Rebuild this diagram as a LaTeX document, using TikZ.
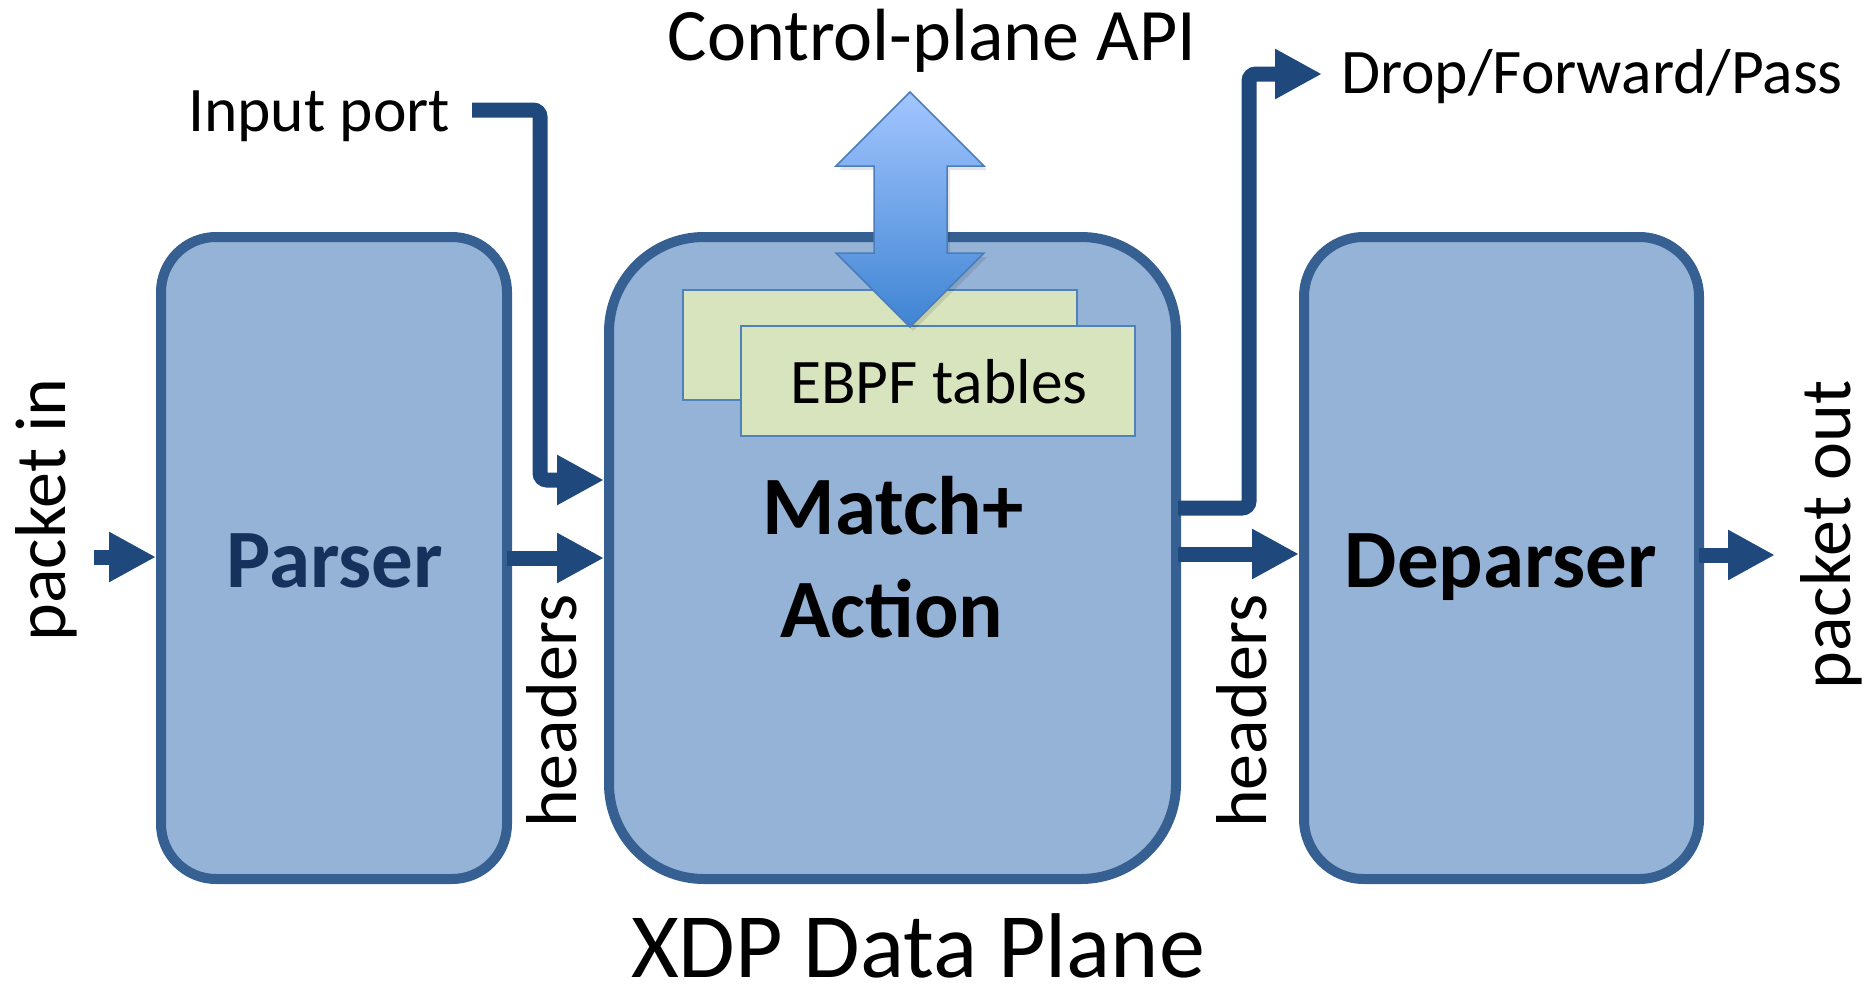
\documentclass[tikz,border=0pt]{standalone}
\usepackage{fontspec}
\setmainfont{Carlito}
\usetikzlibrary{arrows.meta}
\definecolor{boxfill}{HTML}{95B3D7}
\definecolor{boxline}{HTML}{376092}
\definecolor{arrowc}{HTML}{1F497D}
\definecolor{tabfill}{HTML}{D7E4BD}
\definecolor{tabline}{HTML}{4F81BD}
\definecolor{navy}{HTML}{15315C}
\definecolor{datop}{HTML}{A3C6FF}
\definecolor{dabot}{HTML}{3F84D3}
\definecolor{daline}{HTML}{4A7EBB}
\begin{document}
\begin{tikzpicture}[x=1pt,y=-1pt,
  blk/.style={draw=boxline, fill=boxfill, line width=10pt, inner sep=0pt, minimum height=642pt},
  conn/.style={draw=arrowc, line width=15pt, -{Triangle[length=47pt,width=47pt]}},
  tab/.style={draw=tabline, fill=tabfill, line width=1.5pt, minimum width=394pt, minimum height=110pt, inner sep=0pt},
  lbl/.style={inner sep=0pt, text=black},
  bigbold/.style={lbl, font=\fontsize{83}{90}\selectfont\bfseries},
  midtxt/.style={lbl, font=\fontsize{63.5}{70}\selectfont},
  vtxt/.style={lbl, rotate=90, anchor=base, font=\fontsize{72}{80}\selectfont}
]
\useasboundingbox (0,0) rectangle (1873,1001);

% blocks
\node[blk, minimum width=346pt, rounded corners=55pt] (parser) at (334,558) {};
\node[blk, minimum width=567pt, rounded corners=95pt] (match) at (892.5,558) {};
\node[blk, minimum width=395pt, rounded corners=60pt] (deparser) at (1501.5,558) {};

% tables
\node[tab] (tabback) at (880,345) {};
\node[tab] (tabfront) at (938,381) {};
\node[midtxt, anchor=base] (ebpf) at (939,403) {EBPF tables};

% double arrow (control-plane API) with soft shadow
\fill[black, opacity=0.10]
  (913,96) -- (987,170) -- (950,170) -- (950,257) -- (987,257) -- (913,331)
  -- (839,257) -- (877,257) -- (877,170) -- (839,170) -- cycle;
\path[top color=datop, bottom color=dabot, draw=daline, line width=1.5pt]
  (910,92) -- (984,166) -- (947,166) -- (947,253) -- (984,253) -- (910,327)
  -- (836,253) -- (874,253) -- (874,166) -- (836,166) -- cycle;

% block labels
\node[bigbold, text=navy, anchor=base] (parsertxt) at (335,587) {Parser};
\node[bigbold, anchor=base] (matchtxt) at (893,534) {Match+};
\node[bigbold, anchor=base] (actiontxt) at (892,637) {Action};
\node[bigbold, anchor=base] (deparsertxt) at (1501,587) {Deparser};

% other labels
\node[lbl, font=\fontsize{74}{80}\selectfont, anchor=base] (cpapi) at (932,60) {Control-plane API};
\node[midtxt, anchor=base west] (inport) at (188,131) {Input port};
\node[midtxt, anchor=base west] (dfp) at (1341,93) {Drop/Forward/Pass};
\node[lbl, font=\fontsize{92}{100}\selectfont, anchor=base, text depth=0pt] (xdp) at (918,977) {XDP Data Plane};
\node[vtxt] (pktin) at (65,510) {packet in};
\node[vtxt] (pktout) at (1850,535) {packet out};
\node[vtxt] (hdr1) at (576,711) {headers};
\node[vtxt] (hdr2) at (1266,711) {headers};

% coordinates
\coordinate (pinS) at (94,557);
\coordinate (hy1) at (0,558);
\coordinate (ipS) at (472,110);
\coordinate (ipC1) at (540,110);
\coordinate (ipC2) at (540,480);
\coordinate (hy2) at (0,554);
\coordinate (dropS) at (0,508);
\coordinate (dropC1) at (1249,508);
\coordinate (dropC2) at (1249,74);
\coordinate (dropT) at (1322,74);
\coordinate (outT) at (1775,555);

% connectors
\draw[conn] (pinS) -- (pinS -| parser.west);
\draw[conn] ([xshift=-5pt]parser.east |- hy1) -- (match.west |- hy1);
\draw[conn, rounded corners=7pt] (ipS) -- (ipC1) -- (ipC2) -- (match.west |- ipC2);
\draw[conn] ([xshift=-3pt]match.east |- hy2) -- (deparser.west |- hy2);
\draw[conn, rounded corners=7pt] ([xshift=-3pt]match.east |- dropS) -- (dropC1) -- (dropC2) -- (dropT);
\draw[conn] ([xshift=-5pt]deparser.east |- outT) -- (outT);
\end{tikzpicture}
\end{document}
